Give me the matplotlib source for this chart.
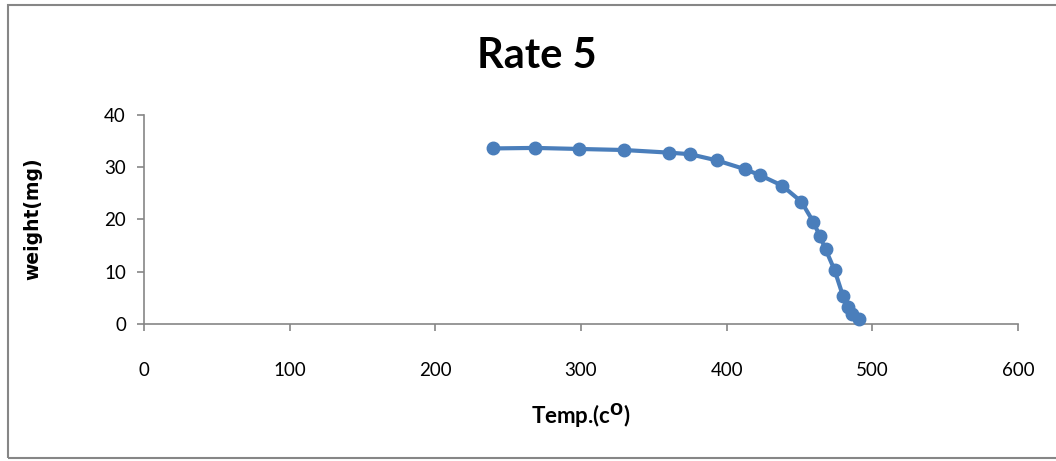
import matplotlib
matplotlib.use("Agg")
import matplotlib.pyplot as plt
from matplotlib.patches import Rectangle

temp = [239.3, 268.3, 298.7, 329.4, 360.4, 374.8, 393.4, 412.9, 422.7, 438.0,
        451.3, 459.6, 463.8, 467.9, 474.1, 479.8, 483.3, 486.3, 490.6]
weight = [33.6, 33.7, 33.5, 33.3, 32.8, 32.5, 31.3, 29.6, 28.5, 26.5,
          23.4, 19.5, 16.9, 14.3, 10.3, 5.4, 3.2, 1.9, 1.0]
xticks = [0, 100, 200, 300, 400, 500, 600]
yticks = [0, 10, 20, 30, 40]

plt.rcParams['font.family'] = ['Lato', 'DejaVu Sans']

fig = plt.figure(figsize=(10.56, 4.61), dpi=100)
W, H = 1056, 461
ax = fig.add_axes([144 / W, 1 - 324 / H, (1018 - 144) / W, (324 - 115) / H])

ax.plot(temp, weight, color='#4A7EBB', lw=3, marker='o', markersize=9,
        markerfacecolor='#4A7EBB', markeredgecolor='#4A7EBB', clip_on=False, zorder=3)

ax.set_xlim(0, 600)
ax.set_ylim(0, 40)
ax.set_xticks(xticks)
ax.set_yticks(yticks)
for s in ['top', 'right']:
    ax.spines[s].set_visible(False)
for s in ['left', 'bottom']:
    ax.spines[s].set_color('#868686')
    ax.spines[s].set_linewidth(1.2)
ax.tick_params(axis='x', direction='out', length=5, width=1.2, color='#868686',
               labelsize=13.5, pad=22)
ax.tick_params(axis='y', direction='out', length=5, width=1.2, color='#868686',
               labelsize=13.5, pad=8)

fig.text(537 / W, 1 - 56 / H, 'Rate 5', ha='center', va='center',
         fontsize=30, fontweight='bold')
fig.text(581 / W, 1 - 416 / H, r'Temp.(c$^{\mathbf{O}}$)', ha='center', va='center',
         fontsize=16, fontweight='bold')
fig.text(33 / W, 1 - 219 / H, 'weight(mg)', ha='center', va='center',
         rotation=90, fontsize=13.5, fontweight='bold', family='DejaVu Sans')

fig.patches.append(Rectangle((8 / W, 3 / H), 1.2, 1 - 8 / H, transform=fig.transFigure,
                             fill=False, edgecolor='#868686', lw=1.5))

fig.savefig('out.png', dpi=100)
